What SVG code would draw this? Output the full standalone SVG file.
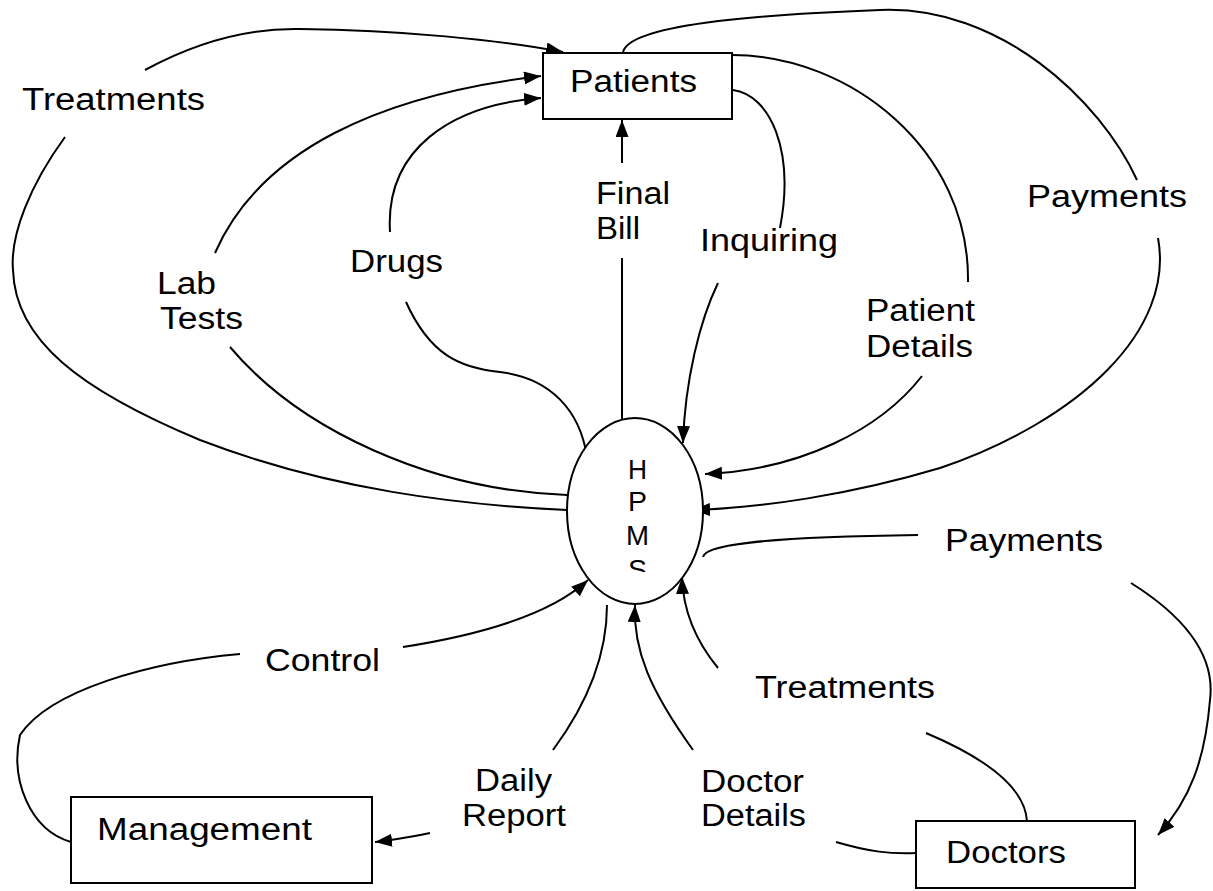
<svg xmlns="http://www.w3.org/2000/svg" width="1213" height="891" viewBox="0 0 1213 891">
<style>
.bg{fill:#ffffff}
.box{fill:#ffffff;stroke:#000;stroke-width:2}
.c{fill:none;stroke:#000;stroke-width:2}
.t{font-family:"Liberation Sans",Arial,sans-serif;font-size:31px;fill:#000}
.h{font-family:"Liberation Sans",Arial,sans-serif;font-size:27px;fill:#000}
</style>
<defs>
<marker id="ah" markerUnits="userSpaceOnUse" markerWidth="19" markerHeight="15" refX="17" refY="6.5" orient="auto">
<path d="M0,0 L17,6.5 L0,13 Z" fill="#000"/>
</marker>
<clipPath id="sclip"><rect x="600" y="420" width="80" height="152"/></clipPath>
</defs>
<rect class="bg" x="0" y="0" width="1213" height="891"/>

<g id="connectors">
<!-- Treatments (top) -->
<path class="c" d="M145,70 C 200,40 250,28 300,29 C 400,30 500,40 563,52" marker-end="url(#ah)"/>
<path class="c" d="M65,137 C 30,185 10,235 13,270 C 15,340 80,390 200,440 C 330,490 460,505 567,510"/>
<!-- Lab Tests -->
<path class="c" d="M215,253 C 260,150 380,95 541,76" marker-end="url(#ah)"/>
<path class="c" d="M230,347 C 300,430 430,490 567,495"/>
<!-- Drugs -->
<path class="c" d="M390,232 C 385,150 450,105 541,98" marker-end="url(#ah)"/>
<path class="c" d="M406,302 C 430,355 460,368 500,372 C 550,378 580,410 587,457"/>
<!-- Final Bill -->
<path class="c" d="M622,420 L622,258"/>
<path class="c" d="M622,163 L622,120" marker-end="url(#ah)"/>
<!-- Inquiring -->
<path class="c" d="M733,90 C 770,95 795,150 780,228"/>
<path class="c" d="M718,283 C 700,320 685,380 683,443" marker-end="url(#ah)"/>
<!-- Patient Details -->
<path class="c" d="M732,55 C 850,55 970,150 968,282"/>
<path class="c" d="M922,376 C 880,430 800,470 705,474" marker-end="url(#ah)"/>
<!-- Payments (top right) -->
<path class="c" d="M623,52 C 630,25 750,15 880,10 C 1000,5 1100,100 1137,180"/>
<path class="c" d="M1158,238 C 1175,330 1080,420 940,468 C 850,495 760,508 693,510" marker-end="url(#ah)"/>
<!-- Payments (right) -->
<path class="c" d="M703,557 C 705,545 760,537 918,535"/>
<path class="c" d="M1131,583 C 1190,620 1215,660 1210,700 C 1205,760 1190,800 1158,835" marker-end="url(#ah)"/>
<!-- Treatments (bottom) -->
<path class="c" d="M718,668 C 695,640 683,610 682,577" marker-end="url(#ah)"/>
<path class="c" d="M926,733 C 990,760 1025,790 1027,821"/>
<!-- Doctor Details -->
<path class="c" d="M693,750 C 650,690 633,650 635,605" marker-end="url(#ah)"/>
<path class="c" d="M836,842 C 870,852 890,854 916,853"/>
<!-- Daily Report -->
<path class="c" d="M553,750 C 590,700 607,650 607,605"/>
<path class="c" d="M430,833 C 410,837 395,840 375,842" marker-end="url(#ah)"/>
<!-- Control -->
<path class="c" d="M403,647 C 480,635 550,615 588,580" marker-end="url(#ah)"/>
<path class="c" d="M240,654 C 150,662 50,690 20,735 C 10,780 30,830 71,842"/>
</g>

<g id="patients">
<rect class="box" x="543" y="53" width="189" height="66"/>
<text class="t" x="570" y="92" textLength="127" lengthAdjust="spacingAndGlyphs">Patients</text>
</g>

<g id="hpms">
<ellipse class="box" cx="635" cy="511" rx="68" ry="93"/>
<text class="h" x="628" y="479" textLength="19" lengthAdjust="spacingAndGlyphs">H</text>
<text class="h" x="628" y="511" textLength="19" lengthAdjust="spacingAndGlyphs">P</text>
<text class="h" x="626" y="545" textLength="23" lengthAdjust="spacingAndGlyphs">M</text>
<text class="h" x="628" y="579" textLength="19" lengthAdjust="spacingAndGlyphs" clip-path="url(#sclip)">S</text>
</g>

<g id="management">
<rect class="box" x="71" y="797" width="301" height="86"/>
<text class="t" x="97" y="840" textLength="215" lengthAdjust="spacingAndGlyphs">Management</text>
</g>

<g id="doctors">
<rect class="box" x="916" y="821" width="219" height="67"/>
<text class="t" x="946" y="863" textLength="120" lengthAdjust="spacingAndGlyphs">Doctors</text>
</g>

<g id="labels">
<text class="t" x="22" y="110" textLength="183" lengthAdjust="spacingAndGlyphs">Treatments</text>
<text class="t" x="596" y="204" textLength="74" lengthAdjust="spacingAndGlyphs">Final</text>
<text class="t" x="596" y="239" textLength="44" lengthAdjust="spacingAndGlyphs">Bill</text>
<text class="t" x="700" y="251" textLength="138" lengthAdjust="spacingAndGlyphs">Inquiring</text>
<text class="t" x="1027" y="207" textLength="160" lengthAdjust="spacingAndGlyphs">Payments</text>
<text class="t" x="157" y="294" textLength="59" lengthAdjust="spacingAndGlyphs">Lab</text>
<text class="t" x="160" y="329" textLength="83" lengthAdjust="spacingAndGlyphs">Tests</text>
<text class="t" x="350" y="272" textLength="93" lengthAdjust="spacingAndGlyphs">Drugs</text>
<text class="t" x="866" y="321" textLength="109" lengthAdjust="spacingAndGlyphs">Patient</text>
<text class="t" x="866" y="357" textLength="107" lengthAdjust="spacingAndGlyphs">Details</text>
<text class="t" x="945" y="551" textLength="158" lengthAdjust="spacingAndGlyphs">Payments</text>
<text class="t" x="265" y="671" textLength="115" lengthAdjust="spacingAndGlyphs">Control</text>
<text class="t" x="755" y="698" textLength="180" lengthAdjust="spacingAndGlyphs">Treatments</text>
<text class="t" x="475" y="791" textLength="77" lengthAdjust="spacingAndGlyphs">Daily</text>
<text class="t" x="462" y="826" textLength="104" lengthAdjust="spacingAndGlyphs">Report</text>
<text class="t" x="701" y="792" textLength="103" lengthAdjust="spacingAndGlyphs">Doctor</text>
<text class="t" x="701" y="826" textLength="105" lengthAdjust="spacingAndGlyphs">Details</text>
</g>
</svg>
